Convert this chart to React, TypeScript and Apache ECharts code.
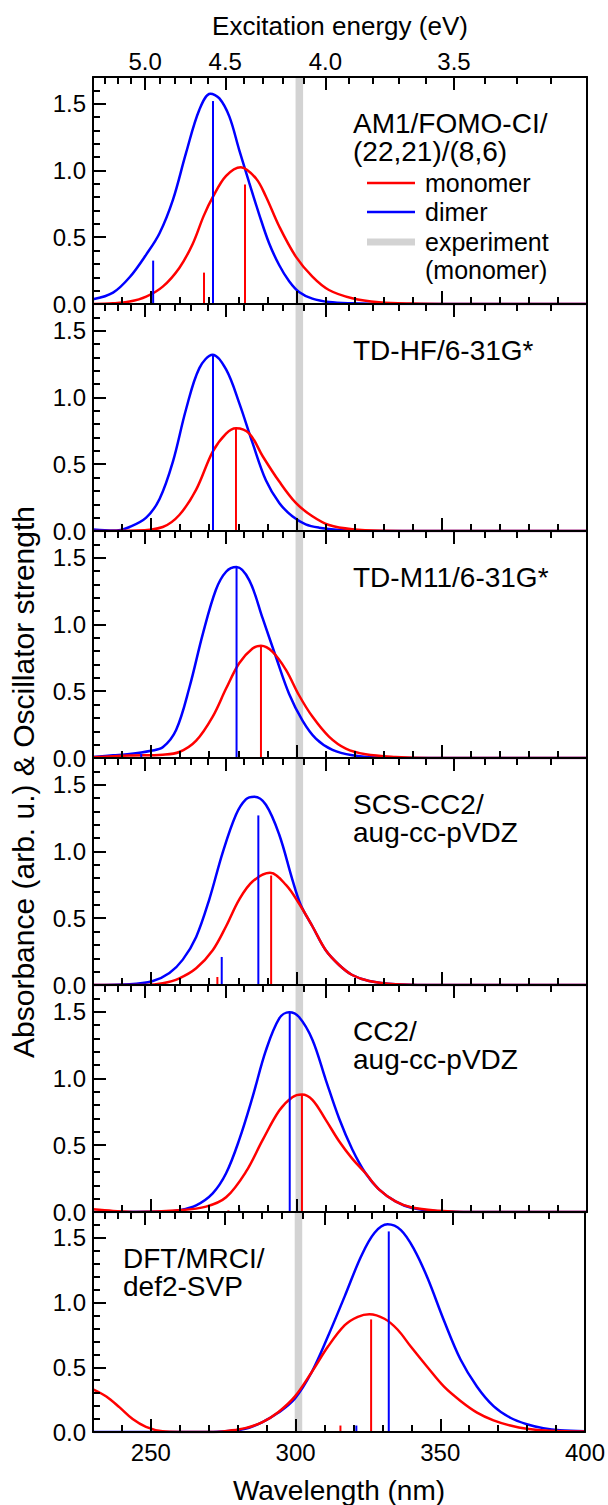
import React, { useEffect, useRef } from "react";
import * as echarts from "echarts";

// ---------- constants / data ----------
const HC = 1239.84; // eV*nm
const X_MIN = 230;
const X_MAX = 400;
const Y_MAX = 1.7;
const NM_MINOR_STEP = 10;
const nmMajorTicks = [250, 300, 350, 400];
const yMajorTicks = [0, 0.5, 1.0, 1.5];
const eVMinorTicks = [5.3, 5.2, 5.1, 5.0, 4.9, 4.8, 4.7, 4.6, 4.5, 4.4, 4.3, 4.2, 4.1, 4.0, 3.9, 3.8, 3.7, 3.6, 3.5, 3.4, 3.3, 3.2];
const eVMajorTicks = [5.0, 4.5, 4.0, 3.5];
const experimentBand = [299.7, 302.3];

const methodLabels = [
  ["AM1/FOMO-CI/", "(22,21)/(8,6)"],
  ["TD-HF/6-31G*"],
  ["TD-M11/6-31G*"],
  ["SCS-CC2/", "aug-cc-pVDZ"],
  ["CC2/", "aug-cc-pVDZ"],
  ["DFT/MRCI/", "def2-SVP"],
];
const legendLabels = ["monomer", "dimer", "experiment", "(monomer)"];

// AM1/FOMO-CI
const am1Dimer = [[230,0.035],[236.9,0.085],[242.6,0.2],[248.3,0.37],[252.9,0.53],[257.5,0.78],[262,1.13],[266.6,1.455],[270.4,1.575],[273.5,1.54],[276.9,1.405],[280.3,1.155],[283.8,0.905],[287.2,0.67],[290.6,0.455],[294.1,0.29],[297.5,0.17],[300.9,0.09],[305.5,0.04],[311.2,0.015],[319.2,0.005],[330,0],[400,0]];
const am1Monomer = [[230,0],[236.9,0.005],[242.6,0.018],[248.3,0.055],[254,0.13],[259.7,0.27],[264.3,0.45],[268.1,0.66],[271.2,0.8],[275.8,0.96],[280.9,1.025],[286.1,0.94],[289.5,0.805],[294.1,0.58],[299.8,0.355],[305.5,0.205],[311.2,0.105],[319.2,0.043],[328.4,0.013],[339.8,0.003],[355,0],[400,0]];
const am1MonomerSticks = [[268.2,0.235],[282.3,0.895]];
const am1DimerSticks = [[250.7,0.325],[271.3,1.52]];

// TD-HF
const tdhfDimer = [[230,0.012],[234,0.005],[238,0.003],[242.6,0.03],[248.3,0.1],[252.9,0.24],[257.5,0.52],[262,0.91],[266.6,1.22],[271.2,1.32],[275.8,1.21],[280.3,0.96],[284.9,0.66],[289.5,0.38],[294.1,0.21],[298.6,0.11],[303.2,0.05],[307.8,0.025],[314.7,0.008],[325,0],[400,0]];
const tdhfMonomer = [[230,0],[245,0.003],[254,0.03],[259.7,0.12],[265.5,0.31],[271.2,0.595],[275.8,0.73],[279.2,0.77],[283.8,0.73],[288.4,0.56],[294.1,0.37],[299.8,0.21],[305.5,0.11],[311.2,0.045],[319.2,0.013],[330,0.002],[345,0],[400,0]];
const tdhfMonomerSticks = [[279.2,0.77]];
const tdhfDimerSticks = [[271.3,1.32]];

// TD-M11
const tdm11Dimer = [[230,0.008],[236.9,0.02],[242.6,0.03],[250,0.055],[254,0.08],[258.6,0.21],[263.2,0.53],[267.8,0.93],[272.3,1.26],[275.8,1.395],[279.4,1.43],[283.8,1.33],[288.4,1.045],[292.9,0.76],[297.5,0.48],[302.1,0.28],[306.7,0.145],[312.4,0.06],[319.2,0.02],[328.4,0.003],[340,0],[400,0]];
const tdm11Monomer = [[230,0.005],[242.6,0.018],[254,0.025],[259.7,0.045],[265.5,0.13],[271.2,0.31],[275.8,0.52],[280.3,0.71],[284.9,0.82],[287.8,0.84],[291.8,0.795],[296.4,0.66],[300.9,0.47],[305.5,0.31],[311.2,0.16],[317,0.07],[323.8,0.028],[334.1,0.008],[345.6,0],[400,0]];
const tdm11MonomerSticks = [[287.8,0.84]];
const tdm11DimerSticks = [[246.6,0.03],[279.4,1.43]];

// SCS-CC2
const scscc2Dimer = [[230,0],[242.6,0.005],[250.6,0.03],[256.3,0.09],[260.9,0.19],[265.5,0.36],[270,0.64],[274.6,0.99],[279.2,1.275],[282.6,1.39],[285.5,1.41],[289.5,1.35],[294.1,1.125],[298.6,0.79],[301.5,0.6],[305.5,0.44],[310.1,0.26],[314.7,0.15],[319.2,0.075],[325,0.03],[334.1,0.005],[345,0],[400,0]];
const scscc2Monomer = [[230,0],[248.3,0],[254,0.013],[259.7,0.05],[265.5,0.125],[271.2,0.26],[275.8,0.44],[280.3,0.64],[284.9,0.775],[290.9,0.84],[296.4,0.75],[300.9,0.61],[305.5,0.44],[310.1,0.26],[314.7,0.15],[319.2,0.075],[325,0.03],[334.1,0.005],[345,0],[400,0]];
const scscc2MonomerSticks = [[272.8,0.06],[291.3,0.82]];
const scscc2DimerSticks = [[274.3,0.21],[286.9,1.27]];

// CC2
const cc2Dimer = [[230,0],[255,0.003],[259.7,0.013],[265.5,0.05],[271.2,0.14],[275.8,0.29],[280.3,0.54],[284.9,0.86],[289.5,1.21],[294.1,1.45],[297.5,1.495],[300.9,1.46],[305.5,1.29],[310.1,0.99],[314.7,0.7],[319.2,0.47],[323.8,0.29],[328.4,0.17],[334.1,0.08],[339.8,0.03],[349,0.005],[360,0],[400,0]];
const cc2Monomer = [[230,0.02],[236.9,0.008],[245,0],[259.7,0.013],[268.9,0.04],[275.8,0.11],[282.6,0.3],[288.4,0.54],[294.1,0.76],[298.6,0.86],[301.9,0.88],[305.5,0.84],[310.1,0.69],[314.7,0.53],[319.2,0.4],[323.8,0.29],[328.4,0.17],[334.1,0.08],[339.8,0.033],[349,0.01],[360,0],[400,0]];
const cc2MonomerSticks = [[276.6,0.012],[301.9,0.88]];
const cc2DimerSticks = [[280.3,0.025],[297.7,1.495]];

// DFT/MRCI
const mrciDimer = [[230,0],[270,0],[276.9,0.008],[282.6,0.025],[288.4,0.075],[294.1,0.15],[299.8,0.26],[305.5,0.46],[311.2,0.74],[317,1.05],[322.7,1.36],[327.3,1.54],[331.8,1.605],[336.4,1.56],[341,1.41],[345.6,1.19],[351.3,0.86],[357,0.56],[362.7,0.35],[368.4,0.2],[374.2,0.11],[379.9,0.06],[385.6,0.03],[391.3,0.013],[400,0.005]];
const mrciMonomer = [[230,0.33],[234.6,0.275],[239.2,0.19],[243.7,0.1],[248.3,0.04],[254,0.005],[260,0],[272,0],[276.9,0.01],[282.6,0.03],[288.4,0.075],[294.1,0.155],[299.8,0.275],[305.5,0.46],[311.2,0.66],[317,0.825],[321.5,0.89],[325.5,0.91],[330.7,0.875],[335.3,0.79],[339.8,0.66],[345.6,0.5],[351.3,0.35],[357,0.24],[362.7,0.15],[368.4,0.09],[374.2,0.05],[379.9,0.025],[387.9,0.01],[400,0.003]];
const mrciMonomerSticks = [[315.5,0.05],[326.1,0.87]];
const mrciDimerSticks = [[321,0.05],[332.2,1.55]];

// ---------- layout / style ----------
const FONT = "'Liberation Sans', Arial, Helvetica, sans-serif";
const RED = "#ff0000";
const BLUE = "#0000ff";
const GREY = "#d3d3d3";
const GRID_LEFT = 93;
const GRID_WIDTH = 494;
const GRID_TOP = 77;
const PANEL_H = 227;

const panels = [
  { label: methodLabels[0], labelX: 353, monomer: am1Monomer, dimer: am1Dimer, mS: am1MonomerSticks, dS: am1DimerSticks },
  { label: methodLabels[1], labelX: 353, monomer: tdhfMonomer, dimer: tdhfDimer, mS: tdhfMonomerSticks, dS: tdhfDimerSticks },
  { label: methodLabels[2], labelX: 353, monomer: tdm11Monomer, dimer: tdm11Dimer, mS: tdm11MonomerSticks, dS: tdm11DimerSticks },
  { label: methodLabels[3], labelX: 353, monomer: scscc2Monomer, dimer: scscc2Dimer, mS: scscc2MonomerSticks, dS: scscc2DimerSticks },
  { label: methodLabels[4], labelX: 353, monomer: cc2Monomer, dimer: cc2Dimer, mS: cc2MonomerSticks, dS: cc2DimerSticks },
  { label: methodLabels[5], labelX: 123, monomer: mrciMonomer, dimer: mrciDimer, mS: mrciMonomerSticks, dS: mrciDimerSticks },
];

function buildOption() {
  const lineStyle = { color: "#000", width: 2 };
  const grids: any[] = [];
  const xAxes: any[] = [];
  const yAxes: any[] = [];
  const series: any[] = [];
  const graphics: any[] = [];
  const eVMinorNm = eVMinorTicks.map((e) => HC / e);
  const eVMajorNm = eVMajorTicks.map((e) => HC / e);
  const n = panels.length;

  panels.forEach((p, i) => {
    const top = GRID_TOP + i * PANEL_H;
    grids.push({ left: GRID_LEFT, width: GRID_WIDTH, top, height: PANEL_H, containLabel: false });
    const xb = { gridIndex: i, type: "value", min: X_MIN, max: X_MAX, z: 10, splitLine: { show: false } };
    xAxes.push({
      ...xb,
      position: "bottom",
      interval: NM_MINOR_STEP,
      axisLine: { show: true, onZero: false, lineStyle },
      axisTick: { show: true, inside: true, length: 7, lineStyle },
      axisLabel: { show: i === n - 1, customValues: nmMajorTicks, margin: 8, fontSize: 24, color: "#000", fontFamily: FONT },
      name: i === n - 1 ? "Wavelength (nm)" : "",
      nameLocation: "middle",
      nameGap: 44,
      nameTextStyle: { fontSize: 28, color: "#000", fontFamily: FONT },
    });
    xAxes.push({
      ...xb,
      position: "bottom",
      axisLine: { show: false, onZero: false },
      axisTick: { show: true, inside: true, length: 13, customValues: nmMajorTicks, lineStyle },
      axisLabel: { show: false },
    });
    xAxes.push({
      ...xb,
      position: "top",
      axisLine: { show: true, onZero: false, lineStyle },
      axisTick: { show: true, inside: true, length: 7, customValues: eVMinorNm, lineStyle },
      axisLabel: { show: false },
    });
    xAxes.push({
      ...xb,
      position: "top",
      axisLine: { show: false, onZero: false },
      axisTick: { show: true, inside: true, length: 13, customValues: eVMajorNm, lineStyle },
      axisLabel: {
        show: i === 0,
        customValues: eVMajorNm,
        formatter: (v: number) => (HC / v).toFixed(1),
        margin: 4,
        fontSize: 24,
        color: "#000",
        fontFamily: FONT,
      },
      name: i === 0 ? "Excitation energy (eV)" : "",
      nameLocation: "middle",
      nameGap: 38,
      nameTextStyle: { fontSize: 26, color: "#000", fontFamily: FONT },
    });

    const yb = { gridIndex: i, type: "value", min: 0, max: Y_MAX, z: 10, splitLine: { show: false } };
    yAxes.push({
      ...yb,
      position: "left",
      interval: 0.1,
      axisLine: { show: true, onZero: false, lineStyle },
      axisTick: { show: true, inside: true, length: 7, lineStyle },
      axisLabel: {
        customValues: yMajorTicks,
        formatter: (v: number) => v.toFixed(1),
        margin: 7,
        fontSize: 24,
        color: "#000",
        fontFamily: FONT,
      },
    });
    yAxes.push({
      ...yb,
      position: "left",
      axisLine: { show: false, onZero: false },
      axisTick: { show: true, inside: true, length: 13, customValues: yMajorTicks, lineStyle },
      axisLabel: { show: false },
    });
    yAxes.push({
      ...yb,
      position: "right",
      axisLine: { show: true, onZero: false, lineStyle },
      axisTick: { show: false },
      axisLabel: { show: false },
    });

    const xi = 4 * i;
    const yi = 3 * i;
    series.push({
      type: "custom",
      xAxisIndex: xi,
      yAxisIndex: yi,
      z: 1,
      silent: true,
      data: [experimentBand],
      renderItem: (params: any, api: any) => {
        const a = api.coord([api.value(0), 0]);
        const b = api.coord([api.value(1), 0]);
        const cs = params.coordSys;
        return { type: "rect", shape: { x: a[0], y: cs.y, width: b[0] - a[0], height: cs.height }, style: { fill: GREY } };
      },
    });
    const curve = (data: number[][], color: string, z: number) => ({
      type: "line",
      xAxisIndex: xi,
      yAxisIndex: yi,
      data,
      smooth: 0.35,
      showSymbol: false,
      symbol: "none",
      silent: true,
      z,
      lineStyle: { color, width: 2.5 },
    });
    series.push(curve(p.dimer, BLUE, 3));
    series.push(curve(p.monomer, RED, 4));
    const sticks = (data: number[][], color: string) => ({
      type: "custom",
      xAxisIndex: xi,
      yAxisIndex: yi,
      z: 5,
      silent: true,
      data,
      renderItem: (params: any, api: any) => {
        const t = api.coord([api.value(0), api.value(1)]);
        const b = api.coord([api.value(0), 0]);
        return { type: "line", shape: { x1: t[0], y1: t[1], x2: b[0], y2: b[1] }, style: { stroke: color, lineWidth: 2 } };
      },
    });
    series.push(sticks(p.dS, BLUE));
    series.push(sticks(p.mS, RED));

    p.label.forEach((line, k) => {
      graphics.push({
        type: "text",
        z: 20,
        x: p.labelX,
        y: top + 46 + k * 28,
        style: { text: line, fill: "#000", fontSize: 28, fontFamily: FONT, align: "left", verticalAlign: "middle" },
      });
    });
  });

  const lgTop = GRID_TOP;
  const legendRows = [
    { y: lgTop + 106, color: RED, width: 2.5, text: legendLabels[0] },
    { y: lgTop + 135, color: BLUE, width: 2.5, text: legendLabels[1] },
    { y: lgTop + 165, color: GREY, width: 7, text: legendLabels[2] },
  ];
  legendRows.forEach((r) => {
    graphics.push({ type: "line", z: 20, shape: { x1: 367, y1: r.y, x2: 415, y2: r.y }, style: { stroke: r.color, lineWidth: r.width } });
    graphics.push({ type: "text", z: 20, x: 425, y: r.y, style: { text: r.text, fill: "#000", fontSize: 25, fontFamily: FONT, align: "left", verticalAlign: "middle" } });
  });
  graphics.push({ type: "text", z: 20, x: 425, y: lgTop + 193, style: { text: legendLabels[3], fill: "#000", fontSize: 25, fontFamily: FONT, align: "left", verticalAlign: "middle" } });

  graphics.push({
    type: "text",
    z: 20,
    x: 23,
    y: 782,
    rotation: Math.PI / 2,
    style: { text: "Absorbance (arb. u.) & Oscillator strength", fill: "#000", fontSize: 30, fontFamily: FONT, align: "center", verticalAlign: "middle" },
  });

  return {
    animation: false,
    backgroundColor: "#fff",
    textStyle: { fontFamily: FONT },
    grid: grids,
    xAxis: xAxes,
    yAxis: yAxes,
    series,
    graphic: graphics,
  };
}

export default function App() {
  const ref = useRef<HTMLDivElement>(null);
  useEffect(() => {
    document.body.style.margin = "0";
    const chart = echarts.init(ref.current!, null, { renderer: "svg" });
    chart.setOption(buildOption() as any);
    return () => chart.dispose();
  }, []);
  return <div ref={ref} style={{ width: 608, height: 1505 }} />;
}
